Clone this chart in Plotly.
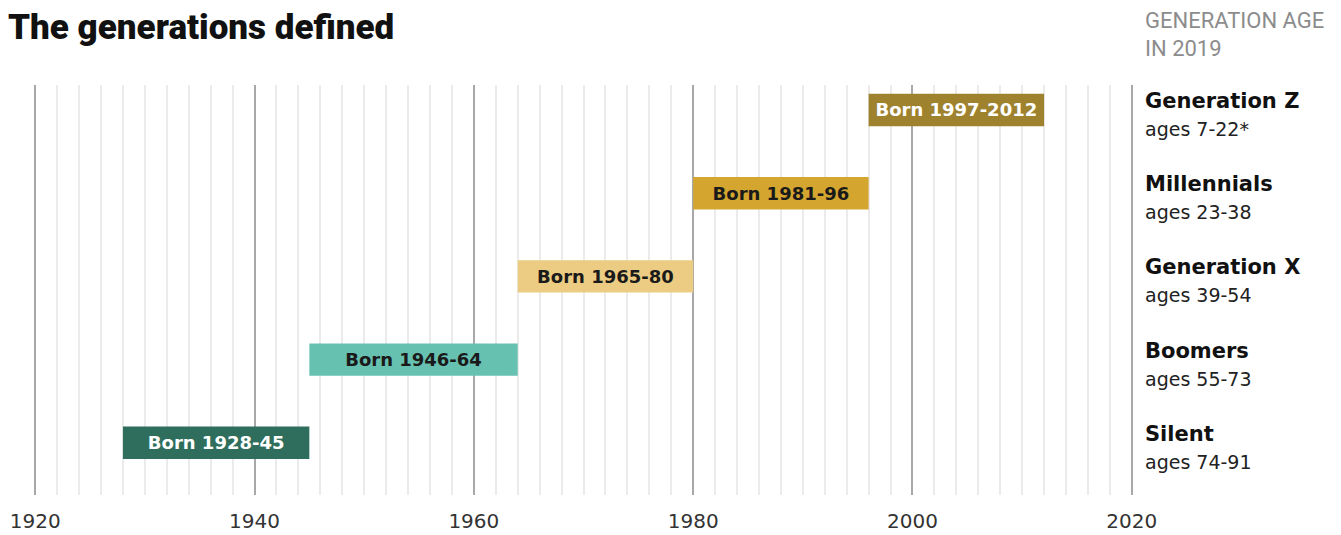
import plotly.graph_objects as go

# Data (bottom to top)
generations = ["Silent", "Boomers", "Generation X", "Millennials", "Generation Z"]
ages = ["ages 74-91", "ages 55-73", "ages 39-54", "ages 23-38", "ages 7-22*"]
bar_labels = ["Born 1928-45", "Born 1946-64", "Born 1965-80", "Born 1981-96", "Born 1997-2012"]
bar_start = [1928, 1945, 1964, 1980, 1996]
bar_end = [1945, 1964, 1980, 1996, 2012]
colors = ["#2f6e5d", "#67c1b1", "#ebcc82", "#d5a62f", "#9f822e"]
text_colors = ["white", "#1a1a1a", "#1a1a1a", "#1a1a1a", "white"]
tick_years = [1920, 1940, 1960, 1980, 2000, 2020]
header_lines = ["GENERATION AGE", "IN 2019"]

TFONT = "Roboto"
LFONT = "DejaVu Sans"

# page is drawn with an 8px body margin; canvas sized to fit
W, H = 1333, 527
L, R, T, B = 25, 207, 77, 40
plot_h = H - T - B

fig = go.Figure()
fig.add_trace(go.Bar(
    y=list(range(len(generations))),
    x=[e - s for s, e in zip(bar_start, bar_end)],
    base=bar_start,
    orientation="h",
    marker=dict(color=colors, line=dict(width=0)),
    width=0.39,
    text=bar_labels,
    textposition="inside",
    insidetextanchor="middle",
    textangle=0,
    textfont=dict(family=LFONT, size=18, color=text_colors, weight="bold"),
    hoverinfo="skip",
))

annotations = []
for i, (g, a) in enumerate(zip(generations, ages)):
    annotations.append(dict(
        x=1.0, xref="paper", xshift=9, y=i, yref="y", yshift=9,
        text=f"<b>{g}</b>", showarrow=False, xanchor="left", yanchor="middle",
        font=dict(family=LFONT, size=21, color="#111"),
    ))
    annotations.append(dict(
        x=1.0, xref="paper", xshift=9, y=i, yref="y", yshift=-19,
        text=a, showarrow=False, xanchor="left", yanchor="middle",
        font=dict(family=LFONT, size=19, color="#222"),
    ))

# header lines: centers at page y 20 and 49 -> canvas 12 and 41
for k, line in enumerate(header_lines):
    cy = 12 + 29 * k
    annotations.append(dict(
        x=1.0, xref="paper", xshift=9, y=(H - B - cy) / plot_h, yref="paper",
        text=line, showarrow=False, xanchor="left", yanchor="middle",
        font=dict(family=TFONT, size=22, color="#8c8c8c"),
    ))

fig.update_layout(
    width=W, height=H,
    margin=dict(l=L, r=R, t=T, b=B),
    paper_bgcolor="white", plot_bgcolor="white",
    showlegend=False,
    annotations=annotations,
    title=dict(
        text="The generations defined",
        x=0.0, xanchor="left", xref="container", y=1 - 19 / H, yanchor="middle",
        pad=dict(l=0, r=0, t=0, b=0),
        font=dict(family=TFONT, size=35, color="#111", weight=900),
    ),
    xaxis=dict(
        range=[1919.8, 2020.2],
        tickvals=tick_years,
        ticks="", showline=False, zeroline=False,
        showgrid=True, gridcolor="#a8a8a8", gridwidth=1.5,
        minor=dict(dtick=2, tick0=1920, showgrid=True, gridcolor="#ebebeb", gridwidth=1.5),
        tickfont=dict(family=LFONT, size=20, color="#333"),
        ticklabelstandoff=12,
        automargin=False,
        fixedrange=True,
    ),
    yaxis=dict(
        range=[-0.627, 4.30],
        showticklabels=False, showgrid=False, zeroline=False, showline=False,
        automargin=False,
        fixedrange=True,
    ),
)

fig.write_html("out.html")
